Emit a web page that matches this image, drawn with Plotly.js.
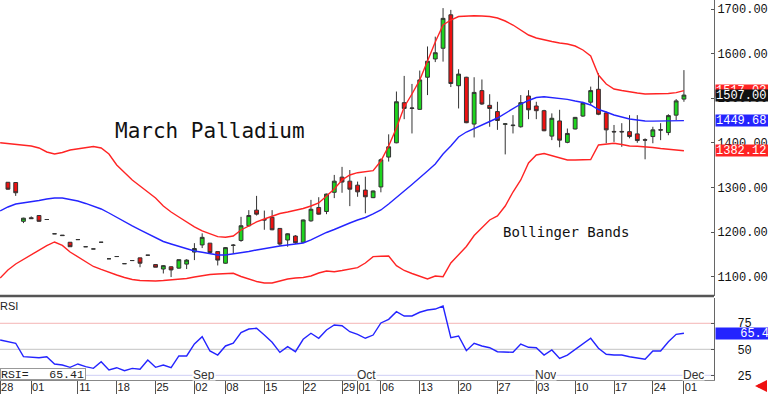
<!DOCTYPE html>
<html><head><meta charset="utf-8">
<script src="https://cdn.plot.ly/plotly-3.0.1.min.js"></script>
<style>html,body{margin:0;padding:0;background:#fff;} #chart{width:768px;height:394px;}</style>
</head><body><div id="chart"></div>
<script>
const dates = [
'2014-07-28','2014-07-29','2014-07-30','2014-07-31','2014-08-01',
'2014-08-04','2014-08-05','2014-08-06','2014-08-07','2014-08-08',
'2014-08-11','2014-08-12','2014-08-13','2014-08-14','2014-08-15',
'2014-08-18','2014-08-19','2014-08-20','2014-08-21','2014-08-22',
'2014-08-25','2014-08-26','2014-08-27','2014-08-28','2014-08-29',
'2014-09-02','2014-09-03','2014-09-04','2014-09-05',
'2014-09-08','2014-09-09','2014-09-10','2014-09-11','2014-09-12',
'2014-09-15','2014-09-16','2014-09-17','2014-09-18','2014-09-19',
'2014-09-22','2014-09-23','2014-09-24','2014-09-25','2014-09-26',
'2014-09-29','2014-09-30','2014-10-01','2014-10-02','2014-10-03',
'2014-10-06','2014-10-07','2014-10-08','2014-10-09','2014-10-10',
'2014-10-13','2014-10-14','2014-10-15','2014-10-16','2014-10-17',
'2014-10-20','2014-10-21','2014-10-22','2014-10-23','2014-10-24',
'2014-10-27','2014-10-28','2014-10-29','2014-10-30','2014-10-31',
'2014-11-03','2014-11-04','2014-11-05','2014-11-06','2014-11-07',
'2014-11-10','2014-11-11','2014-11-12','2014-11-13','2014-11-14',
'2014-11-17','2014-11-18','2014-11-19','2014-11-20','2014-11-21',
'2014-11-24','2014-11-25','2014-11-26','2014-11-28',
'2014-12-01'];

const openP = [null,1311.5,1311,1224,1232,1237,1228,1196,1193,1177,
1183,1167,1162,1177,1140,1145,1129,1136,1142,1148,
1127,1117,1122,1119,1128,1155,1171,1175,1156,1130,
1170,1181,1214,1249,1228,1233,1208,1182,1191,1177,
1225,1255,1246,1289,1323,1314,1305,1294,1277,1301,
1368,1400,1490,1477,1475,1547,1588,1612,1687,1528,
1547,1442,1517,1484,1470,1441.5,1438.5,1436,1505,1482.5,
1472,1415,1449,1401,1431,1460,1491,1520,1467,1425.5,
1425.5,1425,1420,1407,1414,1429.5,1423,1462,1498];
const highP = [null,1312,1312,1232,1235,1238,1228,1196,1193,1177,
1183,1167,1162,1177,1140,1145,1129,1136,1142,1148,
1127,1126,1123,1138,1139,1175,1197,1175,1156,1166,
1173,1234,1249,1281,1248,1249,1209,1197,1193,1228,
1272,1278,1286,1328,1346,1339,1313,1324,1293,1365,
1419,1515,1550,1532,1562,1616,1638,1702,1698,1565,
1548,1547,1542,1509,1492,1444,1462,1507,1518,1492,
1474,1466,1474,1432,1458,1492,1526,1556,1470,1440,
1444,1462,1462,1410,1436,1444,1464,1498,1563];
const lowP = [null,1295,1281,1220,1230,1223,1228,1196,1192,1167,
1183,1167,1162,1177,1140,1145,1129,1136,1121,1148,
1121,1107,1099,1118,1117,1137,1164,1153,1125,1129,
1152,1178,1212,1237,1205,1204,1169,1167,1173,1176,
1223,1239,1240,1276,1288,1258,1279,1242,1276,1289,
1358,1399,1453,1421,1474,1507,1581,1582,1525,1477,
1444,1412,1485,1436,1429,1374,1421,1434,1453,1453,
1426,1406,1390,1399,1430,1458,1485,1462,1399,1402,
1391,1410,1400,1363,1399,1406,1417,1451,1492];
const closeP = [null,1296,1288,1231,1230,1224,1228,1196,1192,1167,
1183,1167,1162,1177,1140,1145,1129,1136,1130,1148,
1121,1124.5,1115,1138,1137,1163,1188,1154,1137,1165,
1170.5,1214,1237,1240,1227,1205,1173,1196,1176,1227,
1251,1240,1285,1314,1312,1296,1290,1279,1292,1362,
1391,1492,1477,1478,1541,1583,1602,1679,1533,1554,
1445,1513,1487,1477,1450,1442.5,1439.5,1490,1474,1472,
1427,1455,1406,1421,1457,1489,1517,1464,1429,1424.5,
1424.5,1414,1405,1406,1429,1428.5,1461,1494,1507.00];

const upperBand = [1400.2,1398.4,1396.2,1394.4,1392.9,1388.4,1379.4,1374.9,1378.3,1383.9,
1386.1,1388.4,1391.7,1388.4,1374.9,1350.2,1332.3,1316.6,1303.2,1289.7,
1276.3,1258.3,1244.9,1233.7,1222.5,1211.3,1202.3,1195.6,1189.5,1188.2,
1191.1,1204.5,1213.5,1222.5,1229.2,1235.9,1241.5,1244.9,1248.2,1252.7,
1258.3,1265.0,1280.7,1296.5,1316.6,1327.8,1333.0,1335.7,1337.5,1359.2,
1392.9,1433.2,1480.3,1509.4,1540.8,1583.4,1626.0,1664.1,1675.3,1683.2,
1684.3,1685.0,1684.3,1683.2,1679.8,1673.1,1664.1,1652.9,1641.7,1635.0,
1630.5,1627.1,1623.8,1621.5,1617.0,1608.1,1594.6,1552.0,1531.9,1520.6,
1517.3,1513.9,1511.7,1509.4,1509.4,1509.4,1510.5,1512.5,1517.03];
const midBand = [1247.1,1256.1,1262.8,1265.1,1268.4,1270.7,1274.0,1276.3,1276.3,1272.9,
1269.5,1264.0,1257.2,1251.6,1242.6,1232.5,1222.5,1213.5,1204.5,1195.6,
1186.6,1178.7,1173.1,1167.5,1161.9,1157.4,1154.5,1151.8,1148.5,1148.5,
1150.7,1153.0,1156.3,1159.7,1163.1,1165.3,1168.6,1170.9,1173.1,1175.4,
1182.1,1191.1,1198.9,1205.6,1213.5,1220.2,1226.9,1232.5,1240.4,1249.4,
1262.8,1278.5,1292.0,1306.5,1321.1,1336.8,1352.5,1374.9,1392.9,1413.0,
1424.2,1432.5,1441.0,1447.8,1455.6,1465.7,1475.8,1487.0,1494.9,1501.6,
1503.4,1501.6,1499.3,1497.5,1493.7,1490.4,1484.8,1474.7,1469.1,1462.4,
1457.9,1453.4,1451.1,1448.9,1448.5,1449.0,1449.3,1449.5,1449.68];
const lowerBand = [1096.9,1114.8,1128.3,1138.4,1148.5,1158.6,1169.5,1177.6,1169.8,1155.2,
1144.7,1132.8,1122.7,1116.0,1109.2,1103.6,1098.0,1093.5,1091.3,1090.2,
1090.2,1091.3,1092.4,1093.5,1095.8,1099.1,1102.5,1104.8,1105.9,1107.0,
1107.4,1100.3,1094.7,1089.1,1085.7,1085.7,1090.2,1094.7,1096.9,1098.0,
1101.4,1108.1,1112.6,1111.0,1113.7,1117.1,1120.0,1130.5,1144.7,1145.6,
1146.2,1124.5,1113.7,1107.0,1100.3,1094.7,1101.4,1099.8,1130.5,1148.5,
1167.5,1192.2,1209.0,1226.9,1235.9,1258.3,1289.7,1316.6,1354.7,1372.7,
1376.0,1371.5,1367.1,1361.5,1361.5,1361.9,1362.6,1395.1,1397.3,1398.9,
1396.2,1392.9,1392.2,1391.3,1389.5,1387.3,1385.0,1382.8,1382.12];

const rsi = [58.9,57.5,55.8,42.9,42.3,41.9,42.9,35.9,34.9,32.7,
35.9,33.3,31.7,38.1,30.1,32.3,29.4,31.7,30.8,39.7,
32.7,34.9,32.3,43.6,43.6,55.1,62.1,48.4,44.5,53.2,
55.8,66.0,69.5,70.2,63.7,56.7,47.1,52.5,47.7,59.6,
65.4,60.6,68.6,73.4,72.7,66.9,64.4,60.6,63.7,75.3,
78.8,86.2,82.0,82.0,85.6,87.8,88.7,91.6,61.2,62.8,
48.7,55.8,53.2,51.5,47.7,47.1,47.1,55.1,51.9,51.5,
44.5,49.3,41.3,44.5,50.0,55.8,60.6,51.0,45.2,44.5,
44.5,42.9,41.3,40.4,48.4,48.4,57.3,64.4,65.41];

const tickDates = ['2014-07-28','2014-08-01','2014-08-11','2014-08-18','2014-08-25','2014-09-02','2014-09-08','2014-09-15','2014-09-22','2014-09-29','2014-10-01','2014-10-06','2014-10-13','2014-10-20','2014-10-27','2014-11-03','2014-11-10','2014-11-17','2014-11-24','2014-12-01'];
const tickText = ['28','01','11','18','25','02','08','15','22','29','01','06','13','20','27','03','10','17','24','01'];
const monthDates = ['2014-09-02','2014-10-01','2014-11-03','2014-12-01'];
const monthNames = ['Sep','Oct','Nov','Dec'];
const priceTicks = [1100,1200,1300,1400,1500,1600,1700];
const rsiTicks = [25,50,75];
const rsiLevels = [75,50,25];
const rsiLevelColors = ['#f4b4b4','#c4c4c4','#cfcff5'];

const last = dates.length - 1;
const mainBottom = 84/380;
const rsiTop = 82/380;
const RED = '#ff2424', BLUE = '#2424ff';

const traces = [
  {type:'candlestick', x:dates, open:openP, high:highP, low:lowP, close:closeP,
   xaxis:'x', yaxis:'y', whiskerwidth:0, hoverinfo:'skip',
   increasing:{line:{color:'#333',width:1}, fillcolor:'#1ed41e'},
   decreasing:{line:{color:'#333',width:1}, fillcolor:'#ee1111'}},
  {type:'scatter', mode:'lines', x:dates, y:upperBand, xaxis:'x', yaxis:'y', line:{color:RED,width:1.4}, hoverinfo:'skip'},
  {type:'scatter', mode:'lines', x:dates, y:midBand, xaxis:'x', yaxis:'y', line:{color:BLUE,width:1.4}, hoverinfo:'skip'},
  {type:'scatter', mode:'lines', x:dates, y:lowerBand, xaxis:'x', yaxis:'y', line:{color:RED,width:1.4}, hoverinfo:'skip'},
  {type:'scatter', mode:'lines', x:dates, y:rsi, xaxis:'x', yaxis:'y2', line:{color:BLUE,width:1.4}, hoverinfo:'skip'}
];

const shapes = [
  {type:'line', xref:'paper', yref:'paper', x0:0, x1:1, y0:mainBottom, y1:mainBottom, line:{color:'#555',width:2.5}}
];
rsiLevels.forEach((lv,k)=>shapes.push({type:'line', xref:'paper', yref:'y2', x0:0, x1:1, y0:lv, y1:lv, line:{color:rsiLevelColors[k], width:1}, layer:'below'}));

const annotations = [
  {xref:'paper', yref:'paper', x:113/714, y:(380-131)/380, xanchor:'left', yanchor:'middle', showarrow:false,
   text:'March Palladium', font:{family:'DejaVu Sans Mono', size:21, color:'#111'}},
  {xref:'paper', yref:'paper', x:501/714, y:(380-232)/380, xanchor:'left', yanchor:'middle', showarrow:false,
   text:'Bollinger Bands', font:{family:'DejaVu Sans Mono', size:14, color:'#111'}},
  {xref:'paper', yref:'paper', x:0, y:rsiTop, xanchor:'left', yanchor:'top', xshift:-2, showarrow:false,
   text:'RSI', font:{family:'Liberation Sans', size:11, color:'#222'}},
  {xref:'paper', yref:'paper', x:0, y:0, xanchor:'left', yanchor:'bottom', showarrow:false,
   text:'RSI=   ' + rsi[last].toFixed(2), width:84, height:10, align:'left', valign:'middle',
   bgcolor:'#fff', bordercolor:'#999', borderwidth:1, borderpad:0,
   font:{family:'Liberation Mono', size:11.5, color:'#222'}}
];
monthDates.forEach((d,k)=>annotations.push({xref:'x', yref:'y2', x:d, y:25, xanchor:'left', yanchor:'middle', xshift:-2, yshift:1,
  showarrow:false, text:monthNames[k], bgcolor:'#fff', borderpad:0, height:11,
  font:{family:'Liberation Sans', size:12, color:'#333'}}));

const rightBoxes = [
  {v:upperBand[last], c:RED, yr:'y'},
  {v:closeP[last], c:'#111', yr:'y'},
  {v:midBand[last], c:BLUE, yr:'y'},
  {v:lowerBand[last], c:RED, yr:'y'}
];
rightBoxes.forEach(b=>annotations.push({xref:'paper', yref:b.yr, x:1, y:b.v, xanchor:'left', yanchor:'middle', xshift:1,
  showarrow:false, text:b.v.toFixed(2), bgcolor:b.c, width:53, height:11, align:'left', borderpad:0,
  font:{family:'Liberation Mono', size:12, color:'#fff'}}));
annotations.push({xref:'paper', yref:'y2', x:1, y:rsi[last], xanchor:'left', yanchor:'middle', xshift:1,
  showarrow:false, text:rsi[last].toFixed(1), bgcolor:BLUE, width:53, height:11, align:'right', borderpad:0,
  font:{family:'Liberation Mono', size:12, color:'#fff'}});
annotations.push({xref:'paper', yref:'paper', x:755/714, y:-6/380, ax:10, ay:0, showarrow:true,
  arrowhead:2, arrowsize:0.8, arrowwidth:3, arrowcolor:'#ee1111', text:''});

const layout = {
  width:768, height:394, margin:{l:0, r:54, t:0, b:14},
  paper_bgcolor:'#fff', plot_bgcolor:'#fff', showlegend:false, hovermode:false,
  xaxis:{type:'category', range:[-0.02, 91.87], anchor:'y2', tickmode:'array', tickvals:tickDates, ticktext:tickText,
    ticks:'outside', ticklen:14, tickcolor:'#555', tickwidth:1, ticklabelstandoff:-17, ticklabelshift:7,
    tickfont:{family:'Liberation Sans', size:11, color:'#222'}, showline:true, linecolor:'#888', linewidth:1,
    showgrid:false, zeroline:false, rangeslider:{visible:false}, fixedrange:true},
  yaxis:{domain:[mainBottom,1], range:[1056.5,1720.2], side:'right', anchor:'x', tickmode:'array',
    tickvals:priceTicks, ticktext:priceTicks.map(v=>v.toFixed(2)), ticks:'inside', ticklen:3, tickcolor:'#555',
    showline:true, linecolor:'#666', linewidth:1, showgrid:false, zeroline:false,
    tickfont:{family:'Liberation Mono', size:12, color:'#111'}, fixedrange:true},
  yaxis2:{domain:[0,rsiTop], range:[20.5,99.3], side:'right', anchor:'x', tickmode:'array',
    tickvals:rsiTicks, ticktext:rsiTicks.map(String), ticks:'inside', ticklen:3, tickcolor:'#555',
    ticklabelstandoff:20, showline:true, linecolor:'#666', linewidth:1, showgrid:false, zeroline:false,
    tickfont:{family:'Liberation Mono', size:12, color:'#111'}, fixedrange:true},
  shapes:shapes, annotations:annotations
};
Plotly.newPlot('chart', traces, layout, {staticPlot:true, displayModeBar:false});
</script></body></html>
